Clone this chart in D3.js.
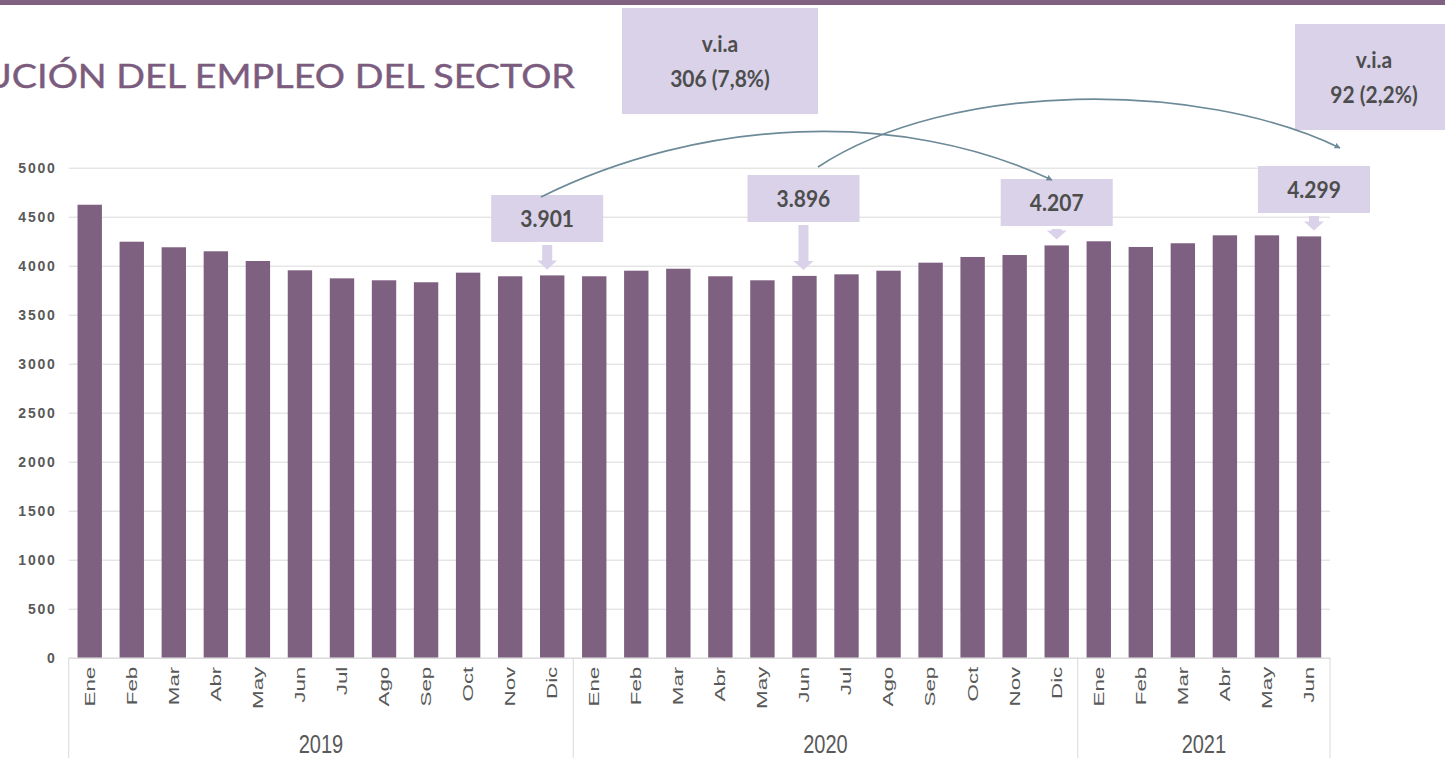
<!DOCTYPE html>
<html>
<head>
<meta charset="utf-8">
<script src="https://cdn.jsdelivr.net/npm/d3@7"></script>
<style>
  body { margin: 0; background: #fff; overflow: hidden; }
  svg { display: block; }
</style>
</head>
<body>
<div id="chart"></div>
<script>
// months per year and employment values
const months = ["Ene", "Feb", "Mar", "Abr", "May", "Jun", "Jul", "Ago", "Sep", "Oct", "Nov", "Dic"];
const years = ["2019", "2020", "2021"];
const empleo2019 = [4622, 4245, 4188, 4147, 4048, 3953, 3871, 3851, 3831, 3929, 3892, 3901];
const empleo2020 = [3892, 3949, 3969, 3892, 3851, 3896, 3912, 3949, 4031, 4089, 4109, 4207];
const empleo2021 = [4249, 4191, 4229, 4310, 4310, 4299];
const yTicks = [0, 500, 1000, 1500, 2000, 2500, 3000, 3500, 4000, 4500, 5000];

// callouts
const calloutLabels = ["3.901", "3.896", "4.207", "4.299"];
const calloutKeys = ["2019-Dic", "2020-Jun", "2020-Dic", "2021-Jun"];
const viaLines = [["v.i.a", "306 (7,8%)"], ["v.i.a", "92 (2,2%)"]];

const series = [empleo2019, empleo2020, empleo2021];
const data = [];
series.forEach((vals, i) => {
  vals.forEach((v, j) => data.push({ year: years[i], month: months[j], key: years[i] + "-" + months[j], value: v }));
});

const W = 1445, H = 758;
const barColor = "#7e6080";
const boxColor = "#d9d2e9";
const arcColor = "#6c8a98";
const textGrey = "#595959";

const svg = d3.select("#chart").append("svg")
  .attr("width", W)
  .attr("height", H);

const defs = svg.append("defs");
defs.append("marker")
  .attr("id", "head")
  .attr("viewBox", "0 0 10 10")
  .attr("refX", 9).attr("refY", 5)
  .attr("markerWidth", 6).attr("markerHeight", 6)
  .attr("markerUnits", "userSpaceOnUse")
  .attr("orient", "auto")
  .append("path")
  .attr("d", "M0,0 L10,5 L0,10 z")
  .attr("fill", arcColor);

// top band + title (left part runs off the page, as in the slide)
svg.append("rect").attr("x", 0).attr("y", 0).attr("width", W).attr("height", 5).attr("fill", "#7f6181");
svg.append("text")
  .attr("transform", "translate(575,88) scale(1.18,1)")
  .attr("text-anchor", "end")
  .attr("font-family", "Lato, 'Open Sans', sans-serif")
  .attr("font-size", "32px")
  .attr("fill", "#7b5c7e")
  .attr("stroke", "#7b5c7e")
  .attr("stroke-width", 0.4)
  .text("EVOLUCIÓN DEL EMPLEO DEL SECTOR");

const plotL = 68.7, plotR = 1330, plotT = 167.7, plotB = 657.7;

const x = d3.scaleBand()
  .domain(data.map(d => d.key))
  .range([plotL, plotR])
  .paddingInner(0.42)
  .paddingOuter(0.21);

const y = d3.scaleLinear()
  .domain([0, 5000])
  .range([plotB, plotT]);

// y axis with gridlines
const yAxis = svg.append("g")
  .attr("transform", `translate(${plotL},0)`)
  .call(d3.axisLeft(y).tickValues(yTicks).tickFormat(d3.format("d")).tickSize(-(plotR - plotL)).tickPadding(12));
yAxis.select(".domain").remove();
yAxis.selectAll(".tick line").attr("stroke", "#d9d9d9");
yAxis.selectAll(".tick text")
  .attr("font-family", "'Liberation Sans', Arial, sans-serif")
  .attr("font-size", "14px")
  .attr("font-weight", "bold")
  .attr("letter-spacing", "1.8px")
  .attr("fill", textGrey);

// bars
svg.selectAll("rect.bar")
  .data(data)
  .enter()
  .append("rect")
  .attr("class", "bar")
  .attr("x", d => x(d.key))
  .attr("y", d => y(d.value))
  .attr("width", x.bandwidth())
  .attr("height", d => y(0) - y(d.value))
  .attr("fill", barColor);

// x axis
const xAxis = svg.append("g")
  .attr("transform", `translate(0,${plotB})`)
  .call(d3.axisBottom(x).tickSize(0).tickFormat(k => k.split("-")[1]));
xAxis.select(".domain").attr("stroke", "#d9d9d9");
xAxis.selectAll(".tick text")
  .attr("transform", "rotate(-90) scale(1.6,1)")
  .attr("x", -9 / 1.6)
  .attr("y", 0)
  .attr("dy", "0.35em")
  .attr("text-anchor", "end")
  .attr("font-family", "'Liberation Sans', Arial, sans-serif")
  .attr("font-size", "14px")
  .attr("fill", textGrey);

// year groups
const step = x.step();
const groups = years.map((yr, i) => {
  const keys = data.filter(d => d.year === yr).map(d => d.key);
  const x0 = x(keys[0]) - (step - x.bandwidth()) / 2;
  const x1 = x(keys[keys.length - 1]) + x.bandwidth() + (step - x.bandwidth()) / 2;
  return { yr, x0, x1 };
});
const seps = [groups[0].x0].concat(groups.map(g => g.x1));
svg.selectAll("line.sep")
  .data(seps)
  .enter()
  .append("line")
  .attr("class", "sep")
  .attr("x1", d => d).attr("x2", d => d)
  .attr("y1", plotB).attr("y2", H)
  .attr("stroke", "#d9d9d9");
svg.selectAll("text.year")
  .data(groups)
  .enter()
  .append("text")
  .attr("class", "year")
  .attr("transform", d => `translate(${(d.x0 + d.x1) / 2},753) scale(1,1.25)`)
  .attr("text-anchor", "middle")
  .attr("font-family", "'Liberation Sans', Arial, sans-serif")
  .attr("font-size", "20px")
  .attr("fill", textGrey)
  .text(d => d.yr);

// value callouts with down arrows
const boxTops = [195, 175, 179, 166];
const boxDx = [-5, -1, 0, 5];
const boxW = 112, boxH = 47;
calloutKeys.forEach((k, i) => {
  const d = data.find(r => r.key === k);
  const cx = x(k) + x.bandwidth() / 2 + boxDx[i];
  const bt = boxTops[i];
  const g = svg.append("g");
  g.append("rect")
    .attr("x", cx - boxW / 2).attr("y", bt)
    .attr("width", boxW).attr("height", boxH)
    .attr("fill", boxColor);
  g.append("text")
    .attr("transform", `translate(${cx},${bt + 32}) scale(1,1.1)`)
    .attr("text-anchor", "middle")
    .attr("font-family", "Lato, 'Open Sans', sans-serif")
    .attr("font-weight", "bold")
    .attr("font-size", "21px")
    .attr("fill", "#4d4d4d")
    .text(calloutLabels[i]);
  const s0 = bt + boxH + 3;
  const tip = y(d.value) - 6;
  const hs = Math.max(tip - 9, s0);
  g.append("path")
    .attr("d", `M${cx - 5},${s0} L${cx + 5},${s0} L${cx + 5},${hs} L${cx + 10},${hs} L${cx},${tip} L${cx - 10},${hs} L${cx - 5},${hs} Z`)
    .attr("fill", boxColor);
});

// v.i.a boxes
const viaBoxes = [
  { x0: 622, x1: 818, y0: 8, y1: 114, cx: 720, base: 52 },
  { x0: 1295, x1: 1460, y0: 24, y1: 130, cx: 1374, base: 68 }
];
viaBoxes.forEach((b, i) => {
  svg.append("rect")
    .attr("x", b.x0).attr("y", b.y0)
    .attr("width", b.x1 - b.x0).attr("height", b.y1 - b.y0)
    .attr("fill", boxColor);
  viaLines[i].forEach((t, j) => {
    svg.append("text")
      .attr("transform", `translate(${b.cx},${b.base + j * 35}) scale(1,1.12)`)
      .attr("text-anchor", "middle")
      .attr("font-family", "Lato, 'Open Sans', sans-serif")
      .attr("font-weight", "bold")
      .attr("font-size", "21px")
      .attr("fill", "#4d4d4d")
      .text(t);
  });
});

// curved arrows linking the callouts
const arcs = [
  "M541,197 C700,118 900,108 1052,180",
  "M818,167 C950,80 1200,80 1340,148"
];
svg.selectAll("path.arc")
  .data(arcs)
  .enter()
  .append("path")
  .attr("class", "arc")
  .attr("d", d => d)
  .attr("fill", "none")
  .attr("stroke", arcColor)
  .attr("stroke-width", 1.6)
  .attr("marker-end", "url(#head)");
</script>
</body>
</html>
